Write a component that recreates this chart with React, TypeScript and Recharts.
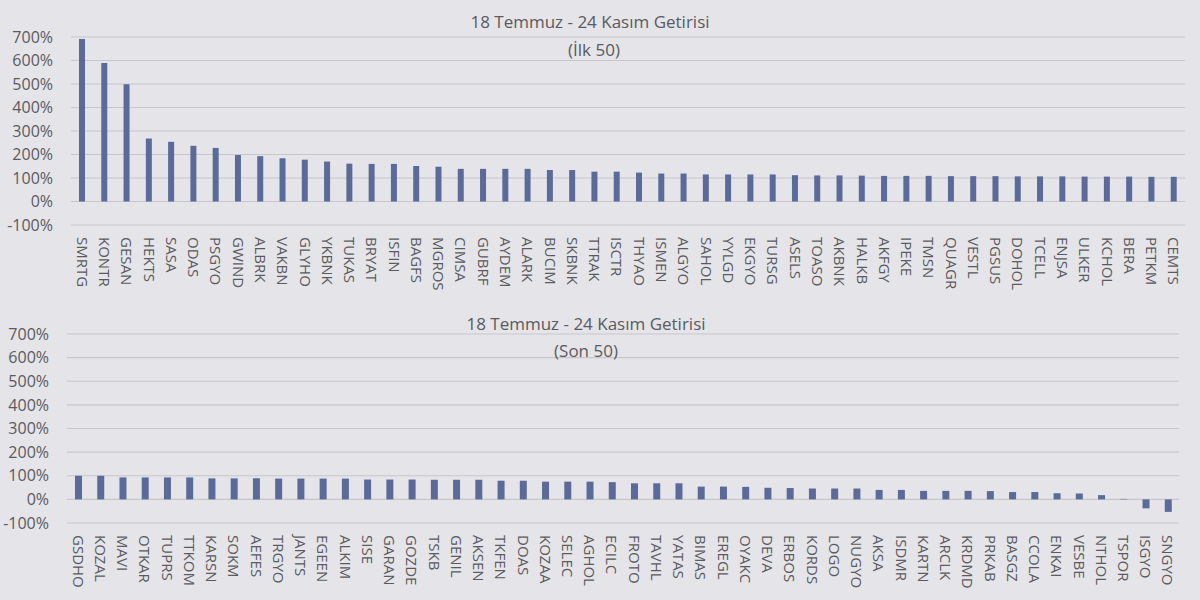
import { BarChart, Bar, XAxis, YAxis, CartesianGrid } from "recharts";

const topNames = [
    "SMRTG", "KONTR", "GESAN", "HEKTS", "SASA", "ODAS", "PSGYO", "GWIND", "ALBRK", "VAKBN",
    "GLYHO", "YKBNK", "TUKAS", "BRYAT", "ISFIN", "BAGFS", "MGROS", "CIMSA", "GUBRF", "AYDEM",
    "ALARK", "BUCIM", "SKBNK", "TTRAK", "ISCTR", "THYAO", "ISMEN", "ALGYO", "SAHOL", "YYLGD",
    "EKGYO", "TURSG", "ASELS", "TOASO", "AKBNK", "HALKB", "AKFGY", "IPEKE", "TMSN", "QUAGR",
    "VESTL", "PGSUS", "DOHOL", "TCELL", "ENJSA", "ULKER", "KCHOL", "BERA", "PETKM", "CEMTS",
];
const topValues = [
    692, 589, 499, 268, 254, 237, 228, 198, 193, 184,
    178, 170, 161, 160, 160, 151, 148, 139, 139, 139,
    139, 134, 134, 127, 127, 123, 119, 119, 115, 115,
    115, 115, 112, 111, 111, 110, 109, 109, 109, 108,
    108, 108, 107, 107, 107, 106, 106, 106, 105, 105,
];

const bottomNames = [
    "GSDHO", "KOZAL", "MAVI", "OTKAR", "TUPRS", "TTKOM", "KARSN", "SOKM", "AEFES", "TRGYO",
    "JANTS", "EGEEN", "ALKIM", "SISE", "GARAN", "GOZDE", "TSKB", "GENIL", "AKSEN", "TKFEN",
    "DOAS", "KOZAA", "SELEC", "AGHOL", "ECILC", "FROTO", "TAVHL", "YATAS", "BIMAS", "EREGL",
    "OYAKC", "DEVA", "ERBOS", "KORDS", "LOGO", "NUGYO", "AKSA", "ISDMR", "KARTN", "ARCLK",
    "KRDMD", "PRKAB", "BASGZ", "CCOLA", "ENKAI", "VESBE", "NTHOL", "TSPOR", "ISGYO", "SNGYO",
];
const bottomValues = [
    100, 100, 93, 93, 93, 93, 89, 89, 89, 88,
    88, 88, 88, 84, 84, 84, 83, 83, 83, 79,
    79, 75, 75, 75, 73, 68, 68, 68, 54, 54,
    53, 49, 48, 46, 46, 46, 40, 40, 36, 36,
    36, 35, 31, 31, 26, 25, 18, 2, -38, -53,
];

const yTicks = [-100, 0, 100, 200, 300, 400, 500, 600, 700];

const BG = "#e5e5e9";
const BAR = "#5b6a98";
const TEXT = "#5a5a5f";
const GRID = "#c6c6cb";
const FONT = "'Open Sans', sans-serif";

const topData = topNames.map((name, i) => ({ name, value: topValues[i] }));
const bottomData = bottomNames.map((name, i) => ({ name, value: bottomValues[i] }));

// rotated category label, reads top to bottom
function NameTick(props: any) {
    const { x, y, payload } = props;
    return (
        <g transform={`translate(${x},${y + 10})`}>
            <text transform="rotate(90)" x={0} y={0} dy="0.36em" textAnchor="start"
                fill={TEXT} fontSize={15} fontFamily={FONT}>
                {payload.value}
            </text>
        </g>
    );
}

function Panel({ data, barSize, margin, yWidth, xHeight }: any) {
    return (
        <BarChart width={1200} height={300} data={data} margin={margin} barCategoryGap={0}>
            <CartesianGrid vertical={false} stroke={GRID} strokeWidth={1.2} />
            <XAxis dataKey="name" interval={0} tick={<NameTick />} tickLine={false}
                axisLine={false} height={xHeight} tickSize={0} />
            <YAxis domain={[-100, 700]} ticks={yTicks} width={yWidth} tickLine={false}
                axisLine={false} tickSize={0} tickMargin={18} tickFormatter={(v) => `${v}%`}
                tick={{ fill: TEXT, fontSize: 16, fontFamily: FONT }} />
            <Bar dataKey="value" fill={BAR} barSize={barSize} isAnimationActive={false} />
        </BarChart>
    );
}

const titleStyle: any = {
    position: "absolute", left: 0, width: 1180, textAlign: "center",
    fontFamily: FONT, fontSize: 17, color: TEXT, lineHeight: "20px",
};

export default function App() {
    return (
        <div style={{ position: "absolute", left: 0, top: 0, width: 1200, height: 600, background: BG, overflow: "hidden" }}>
            <div style={{ position: "absolute", left: 0, top: 0 }}>
                <Panel data={topData} barSize={6} yWidth={71} xHeight={75}
                    margin={{ top: 37, right: 15, bottom: 0, left: 0 }} />
            </div>
            <div style={{ position: "absolute", left: 0, top: 300 }}>
                <Panel data={bottomData} barSize={7} yWidth={67} xHeight={77}
                    margin={{ top: 34, right: 21, bottom: 0, left: 0 }} />
            </div>
            <div style={{ ...titleStyle, top: 12 }}>18 Temmuz - 24 Kasım Getirisi</div>
            <div style={{ ...titleStyle, top: 40, left: 4 }}>(İlk 50)</div>
            <div style={{ ...titleStyle, top: 314, left: -4 }}>18 Temmuz - 24 Kasım Getirisi</div>
            <div style={{ ...titleStyle, top: 341, left: -4 }}>(Son 50)</div>
        </div>
    );
}
